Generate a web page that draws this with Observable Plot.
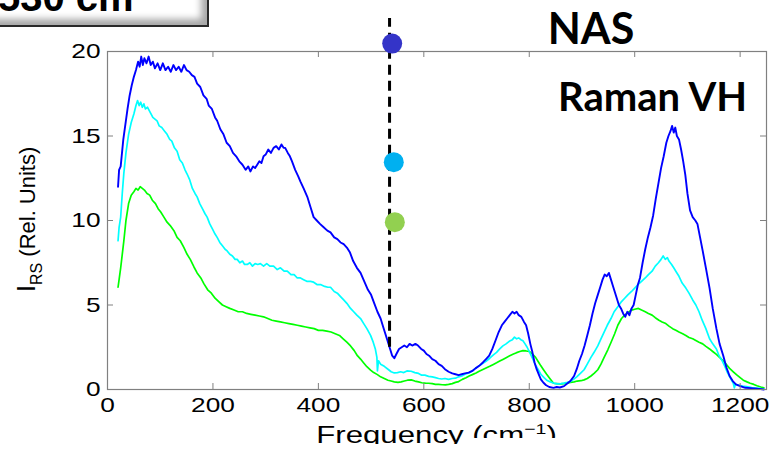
<!DOCTYPE html>
<html><head><meta charset="utf-8">
<script src="https://cdn.jsdelivr.net/npm/d3@7"></script>
<script src="https://cdn.jsdelivr.net/npm/@observablehq/plot@0.6"></script>
<style>
html,body{margin:0;padding:0;background:#fff;}
#wrap{position:relative;width:779px;height:455px;overflow:hidden;background:#fff;}
#wrap svg{position:absolute;left:0;top:0;overflow:visible;}
.box{position:absolute;left:-12px;top:-22px;width:217px;height:45px;border:2px solid #2a2a2a;background:#fff;box-shadow:inset -7px -7px 7px -1px #a8a8a8;}
.boxtext{position:absolute;left:-2px;top:-23px;font:bold 40px "Liberation Sans",Arial,sans-serif;line-height:40px;color:#000;white-space:nowrap;}
.cut1{position:absolute;left:0;top:444px;width:779px;height:11px;background:#fff;}
.cut2{position:absolute;left:463px;top:438px;width:99px;height:17px;background:#fff;}
</style></head><body><div id="wrap"></div>
<script>
// ---- data ----
const blueF = [20,22,25,30,34,38,42,46,50,54,58,61,64,67,70,74,78,82,86,90,95,100,105,110,115,120,125,130,135,140,145,150,155,160,165,170,176,182,188,192,198,204,208,214,220,226,232,238,244,250,256,262,267,271,276,280,284,288,292,296,300,305,310,315,320,325,330,334,337,342,346,350,356,362,366,372,379,385,391,397,403,410,417,423,430,436,442,448,454,460,466,473,480,487,494,500,506,512,518,524,530,535,540,544,548,553,558,563,568,573,578,584,589,595,600,605,610,616,622,628,634,640,647,654,660,666,672,678,685,692,698,705,712,718,724,730,736,742,748,753,758,763,768,772,776,780,785,790,794,798,802,806,810,814,818,822,827,832,838,846,852,858,866,872,878,885,890,895,900,905,910,915,920,925,930,935,939,943,947,951,955,958,962,966,970,974,978,982,986,990,994,998,1002,1006,1010,1015,1020,1025,1030,1035,1040,1045,1050,1055,1060,1064,1068,1071,1074,1077,1080,1084,1088,1092,1096,1100,1105,1110,1115,1119,1124,1129,1135,1142,1148,1155,1161,1168,1174,1180,1186,1192,1200,1210,1220,1232,1245];
const blueI = [12.0,13.0,13.2,14.8,15.7,16.6,17.4,18.0,18.5,18.9,19.4,19.1,19.7,19.2,19.6,19.3,19.7,19.2,19.4,19.0,19.3,18.9,19.3,18.9,19.1,18.8,19.2,18.9,19.1,18.8,19.2,18.9,18.8,18.6,18.5,18.1,17.9,17.4,17.2,16.8,16.6,16.1,15.9,15.4,15.1,14.6,14.4,14.0,13.8,13.5,13.3,13.0,13.2,12.9,13.2,13.1,13.3,13.5,13.4,13.8,13.9,14.2,14.0,14.3,14.4,14.2,14.5,14.3,14.3,14.0,13.8,13.5,13.0,12.6,12.3,11.9,11.4,10.8,10.2,10.0,9.8,9.6,9.4,9.3,9.0,8.9,8.7,8.6,8.4,8.1,7.6,7.2,6.9,6.4,5.9,5.6,5.1,4.6,4.2,3.6,3.0,2.5,2.0,1.85,2.1,2.4,2.5,2.6,2.5,2.7,2.6,2.7,2.6,2.4,2.3,2.1,2.0,1.8,1.7,1.5,1.4,1.2,1.05,0.95,0.9,0.85,0.9,0.95,1.0,1.1,1.25,1.4,1.6,1.8,2.0,2.4,2.9,3.4,3.8,4.0,4.2,4.4,4.6,4.5,4.6,4.4,4.3,4.0,3.8,3.3,2.7,2.2,1.6,1.2,0.9,0.6,0.4,0.25,0.15,0.1,0.15,0.12,0.2,0.35,0.5,0.8,1.2,1.7,2.1,2.6,3.2,3.8,4.5,5.1,5.6,6.1,6.5,6.8,6.7,6.9,6.5,6.2,5.8,5.4,5.0,4.8,4.5,4.3,4.6,4.4,4.8,5.0,5.6,6.2,6.6,7.5,8.3,9.0,9.6,10.3,11.3,12.2,13.1,13.8,14.6,15.0,15.3,15.6,15.2,15.5,15.0,14.8,14.2,13.5,12.7,11.6,10.6,10.2,10.0,9.8,9.0,8.2,7.2,6.0,4.8,3.6,2.7,2.0,1.3,0.8,0.5,0.3,0.2,0.1,0.08,0.05,0.0];

const cyanF = [20,22,25,28,31,35,40,45,50,54,57,60,63,66,69,72,76,81,86,90,94,98,103,108,113,118,122,127,132,137,142,147,151,156,161,166,170,175,180,185,189,194,199,204,208,213,218,223,227,232,237,242,246,251,256,260,265,270,275,280,285,290,296,302,308,315,322,328,335,341,348,354,360,366,372,378,385,391,398,405,412,418,423,430,436,442,448,454,461,467,473,480,486,492,499,504,508,511,512,514,518,525,532,538,544,550,556,562,568,576,583,590,596,602,609,616,622,628,634,640,647,654,660,666,672,678,685,692,698,705,712,718,725,732,738,744,750,756,762,768,772,776,780,784,788,792,796,801,806,811,817,822,828,834,840,846,853,860,866,872,878,884,890,897,904,910,917,923,930,936,942,948,955,961,968,975,981,987,994,1000,1006,1013,1020,1026,1033,1039,1045,1050,1054,1058,1062,1065,1070,1074,1078,1084,1090,1097,1103,1110,1116,1122,1128,1135,1142,1148,1155,1160,1166,1171,1176,1181,1187,1189,1191,1198,1205,1212,1222,1232,1245];
const cyanI = [8.8,9.6,10.2,11.6,12.8,14.0,15.1,15.8,16.3,16.8,17.1,16.8,17.0,16.7,16.9,16.6,16.7,16.4,16.1,16.0,15.9,15.6,15.5,15.3,15.1,14.8,14.7,14.3,14.1,13.6,13.4,13.0,12.75,12.4,11.9,11.6,11.4,11.0,10.7,10.4,10.2,9.8,9.5,9.2,9.0,8.7,8.5,8.3,8.2,8.0,7.9,7.7,7.7,7.5,7.6,7.4,7.4,7.5,7.3,7.45,7.4,7.45,7.3,7.45,7.3,7.3,7.1,7.2,7.0,7.0,6.8,6.8,6.6,6.6,6.5,6.4,6.4,6.35,6.2,6.2,6.1,6.05,6.05,5.8,5.7,5.5,5.3,5.1,4.8,4.6,4.4,4.2,3.9,3.6,3.2,2.8,2.4,1.9,1.1,1.7,1.5,1.37,1.2,1.05,0.98,1.0,1.05,1.0,1.1,1.08,1.0,0.95,0.85,0.85,0.78,0.75,0.7,0.65,0.62,0.65,0.6,0.65,0.67,0.75,0.8,0.9,0.98,1.1,1.25,1.4,1.55,1.67,1.85,2.05,2.2,2.4,2.58,2.7,2.85,2.95,3.1,3.0,3.05,2.95,2.88,2.7,2.5,2.18,1.85,1.5,1.17,0.9,0.7,0.53,0.45,0.38,0.33,0.35,0.38,0.42,0.47,0.6,0.75,0.95,1.17,1.5,1.9,2.2,2.58,3.0,3.4,3.8,4.2,4.6,4.9,5.2,5.4,5.6,5.8,6.0,6.2,6.4,6.6,6.8,7.0,7.3,7.5,7.7,7.9,7.7,7.8,7.6,7.4,7.2,7.0,6.7,6.3,6.0,5.7,5.3,5.0,4.6,4.1,3.6,3.0,2.7,2.4,2.0,1.7,1.37,1.0,0.7,0.37,0.1,0.3,0.25,0.2,0.17,0.12,0.08,0.03];

const greenF = [20,22,25,28,31,35,40,45,50,54,58,62,66,70,75,80,85,91,96,101,107,113,119,126,132,138,145,151,157,164,170,177,183,190,197,204,211,218,225,232,240,248,256,264,272,280,288,296,304,312,320,328,336,344,352,360,368,376,384,392,400,408,416,424,432,440,447,454,461,468,474,480,486,492,499,505,512,518,525,532,538,544,551,557,563,569,576,583,590,596,603,609,616,622,628,635,641,647,654,660,666,673,680,686,692,699,705,712,718,725,731,738,744,750,757,763,770,776,782,788,794,800,806,812,818,822,827,833,839,846,852,859,866,872,878,885,891,898,904,910,917,923,930,936,942,949,955,962,968,975,981,987,994,1000,1007,1013,1020,1026,1033,1039,1046,1052,1059,1065,1072,1078,1084,1091,1097,1103,1110,1116,1122,1129,1135,1142,1148,1155,1161,1168,1174,1180,1187,1193,1200,1206,1213,1219,1226,1232,1239,1245];
const greenI = [6.05,6.5,7.2,8.0,8.8,10.0,11.0,11.5,11.7,11.9,11.8,12.0,11.9,11.8,11.6,11.5,11.2,11.0,10.7,10.5,10.2,9.9,9.7,9.4,9.0,8.8,8.4,8.0,7.7,7.25,6.9,6.6,6.25,5.9,5.7,5.4,5.2,5.0,4.9,4.8,4.7,4.6,4.6,4.5,4.45,4.4,4.35,4.3,4.2,4.1,4.05,4.0,3.95,3.9,3.85,3.8,3.75,3.7,3.65,3.6,3.5,3.5,3.45,3.4,3.3,3.2,3.0,2.8,2.58,2.3,2.0,1.8,1.57,1.35,1.15,1.0,0.88,0.75,0.65,0.55,0.5,0.45,0.42,0.45,0.5,0.55,0.57,0.5,0.45,0.4,0.38,0.37,0.35,0.3,0.3,0.28,0.27,0.3,0.35,0.42,0.47,0.6,0.7,0.8,0.88,0.98,1.08,1.18,1.27,1.37,1.47,1.58,1.68,1.78,1.9,2.0,2.1,2.18,2.25,2.3,2.28,2.25,2.1,1.9,1.6,1.4,1.17,0.9,0.65,0.37,0.35,0.33,0.35,0.37,0.42,0.45,0.5,0.52,0.57,0.65,0.8,0.95,1.17,1.5,1.9,2.35,2.78,3.3,3.8,4.2,4.4,4.55,4.7,4.75,4.8,4.7,4.6,4.5,4.4,4.25,4.1,4.0,3.9,3.75,3.6,3.5,3.4,3.3,3.2,3.08,3.0,2.9,2.8,2.7,2.55,2.4,2.25,2.08,1.9,1.7,1.47,1.25,1.05,0.88,0.7,0.55,0.45,0.37,0.3,0.22,0.15,0.1];

const xTicks = [0, 200, 400, 600, 800, 1000, 1200];
const yTicks = [0, 5, 10, 15, 20];
const markerF = [535];
const markerTop = [21.95];
const markerBottom = [2.5];
const dotF = [540, 543, 545];
const dotI = [20.47, 13.45, 9.9];
const dotColors = ["#3434c8", "#00b0f0", "#92d050"];
const seriesColors = ["#0000ff", "#00ffff", "#00ff00"];
const titleText = "NAS";
const subText = "Raman VH";
const boxText = "530 cm\u207B\u00B9";

// ---- build tables ----
const toRows = (F, I) => F.map((f, i) => ({f, v: I[i]}));
const series = [
  {rows: toRows(greenF, greenI), color: seriesColors[2], w: 1.7},
  {rows: toRows(cyanF, cyanI), color: seriesColors[1], w: 1.7},
  {rows: toRows(blueF, blueI), color: seriesColors[0], w: 1.9}
];
const dots = dotF.map((f, i) => ({f, v: dotI[i], c: dotColors[i]}));
const marker = markerF.map((f, i) => ({f, y1: markerBottom[i], y2: markerTop[i]}));

const W = 779, H = 455, ML = 107, MR = 13, MT = 51, MB = 66;
const FW = W - ML - MR, FH = H - MT - MB;

const plot = Plot.plot({
  width: W, height: H,
  marginLeft: ML, marginRight: MR, marginTop: MT, marginBottom: MB,
  style: {fontFamily: '"Liberation Sans", Arial, sans-serif', fontSize: "21px", color: "#000", background: "transparent", overflow: "visible"},
  x: {domain: [0, 1250]},
  y: {domain: [0, 20]},
  marks: [
    ...series.map(s => Plot.line(s.rows, {x: "f", y: "v", stroke: s.color, strokeWidth: s.w})),
    Plot.frame({stroke: "#808080", strokeWidth: 1.2}),
    Plot.tickX(xTicks, {x: d => d, stroke: "#808080", insetTop: FH - 6}),
    Plot.tickX(xTicks, {x: d => d, stroke: "#808080", insetBottom: FH - 6}),
    Plot.tickY(yTicks, {y: d => d, stroke: "#808080", insetRight: FW - 6}),
    Plot.tickY(yTicks, {y: d => d, stroke: "#808080", insetLeft: FW - 6}),
    Plot.axisX({ticks: xTicks, tickSize: 0, tickPadding: 8, label: null, fontSize: 21, tickFormat: d => String(d)}),
    Plot.axisY({ticks: yTicks, tickSize: 0, tickPadding: 7, label: null, fontSize: 21, tickFormat: d => String(d)}),
    Plot.ruleX(marker, {x: "f", y1: "y1", y2: "y2", stroke: "#000", strokeWidth: 3, strokeDasharray: "10,6"}),
    Plot.dot(dots, {x: "f", y: "v", r: 10, fill: "c", stroke: null})
  ]
});

const wrap = document.getElementById("wrap");
wrap.appendChild(plot);

// stretch tick labels horizontally like the reference font
d3.select(plot).selectAll('g[aria-label="x-axis tick label"] text, g[aria-label="y-axis tick label"] text')
  .each(function() {
    const t = this.getAttribute("transform") || "";
    this.setAttribute("transform", t + " scale(1.25,1)");
  });

const svg = d3.select(plot);
// titles
svg.append("text").attr("x", 591).attr("y", 44).attr("text-anchor", "middle")
  .attr("font-family", "Lato, 'Open Sans', sans-serif").attr("font-weight", "bold").attr("font-size", 43)
  .attr("fill", "#000").text(titleText);
svg.append("text").attr("x", 747).attr("y", 111).attr("text-anchor", "end")
  .attr("font-family", "Lato, 'Open Sans', sans-serif").attr("font-weight", "bold").attr("font-size", 40)
  .attr("fill", "#000").text(subText);

// y label with subscript
const yl = svg.append("text").attr("transform", "translate(35,292) rotate(-90)").attr("text-anchor", "start")
  .attr("font-family", '"Liberation Sans", Arial, sans-serif').attr("fill", "#000");
yl.append("tspan").attr("font-size", 25).text("I");
yl.append("tspan").attr("font-size", 16).attr("dy", 7).text("RS");
yl.append("tspan").attr("font-size", 22).attr("dy", -7).text("\u00A0(Rel. Units)");

// x label with superscript (stretched like the reference)
const xl = svg.append("text").attr("transform", `translate(${(ML + W - MR) / 2},443) scale(1.3,1)`).attr("text-anchor", "middle")
  .attr("font-family", '"Liberation Sans", Arial, sans-serif').attr("fill", "#000");
xl.append("tspan").attr("font-size", 24).text("Frequency (cm");
xl.append("tspan").attr("font-size", 15).attr("dy", -9).text("\u22121");
xl.append("tspan").attr("font-size", 24).attr("dy", 9).text(")");

// cut overlays and corner box
const c1 = document.createElement("div"); c1.className = "cut1"; wrap.appendChild(c1);
const c2 = document.createElement("div"); c2.className = "cut2"; wrap.appendChild(c2);
const box = document.createElement("div"); box.className = "box"; wrap.appendChild(box);
const bt = document.createElement("div"); bt.className = "boxtext"; bt.textContent = boxText; wrap.appendChild(bt);
</script>
</body></html>
